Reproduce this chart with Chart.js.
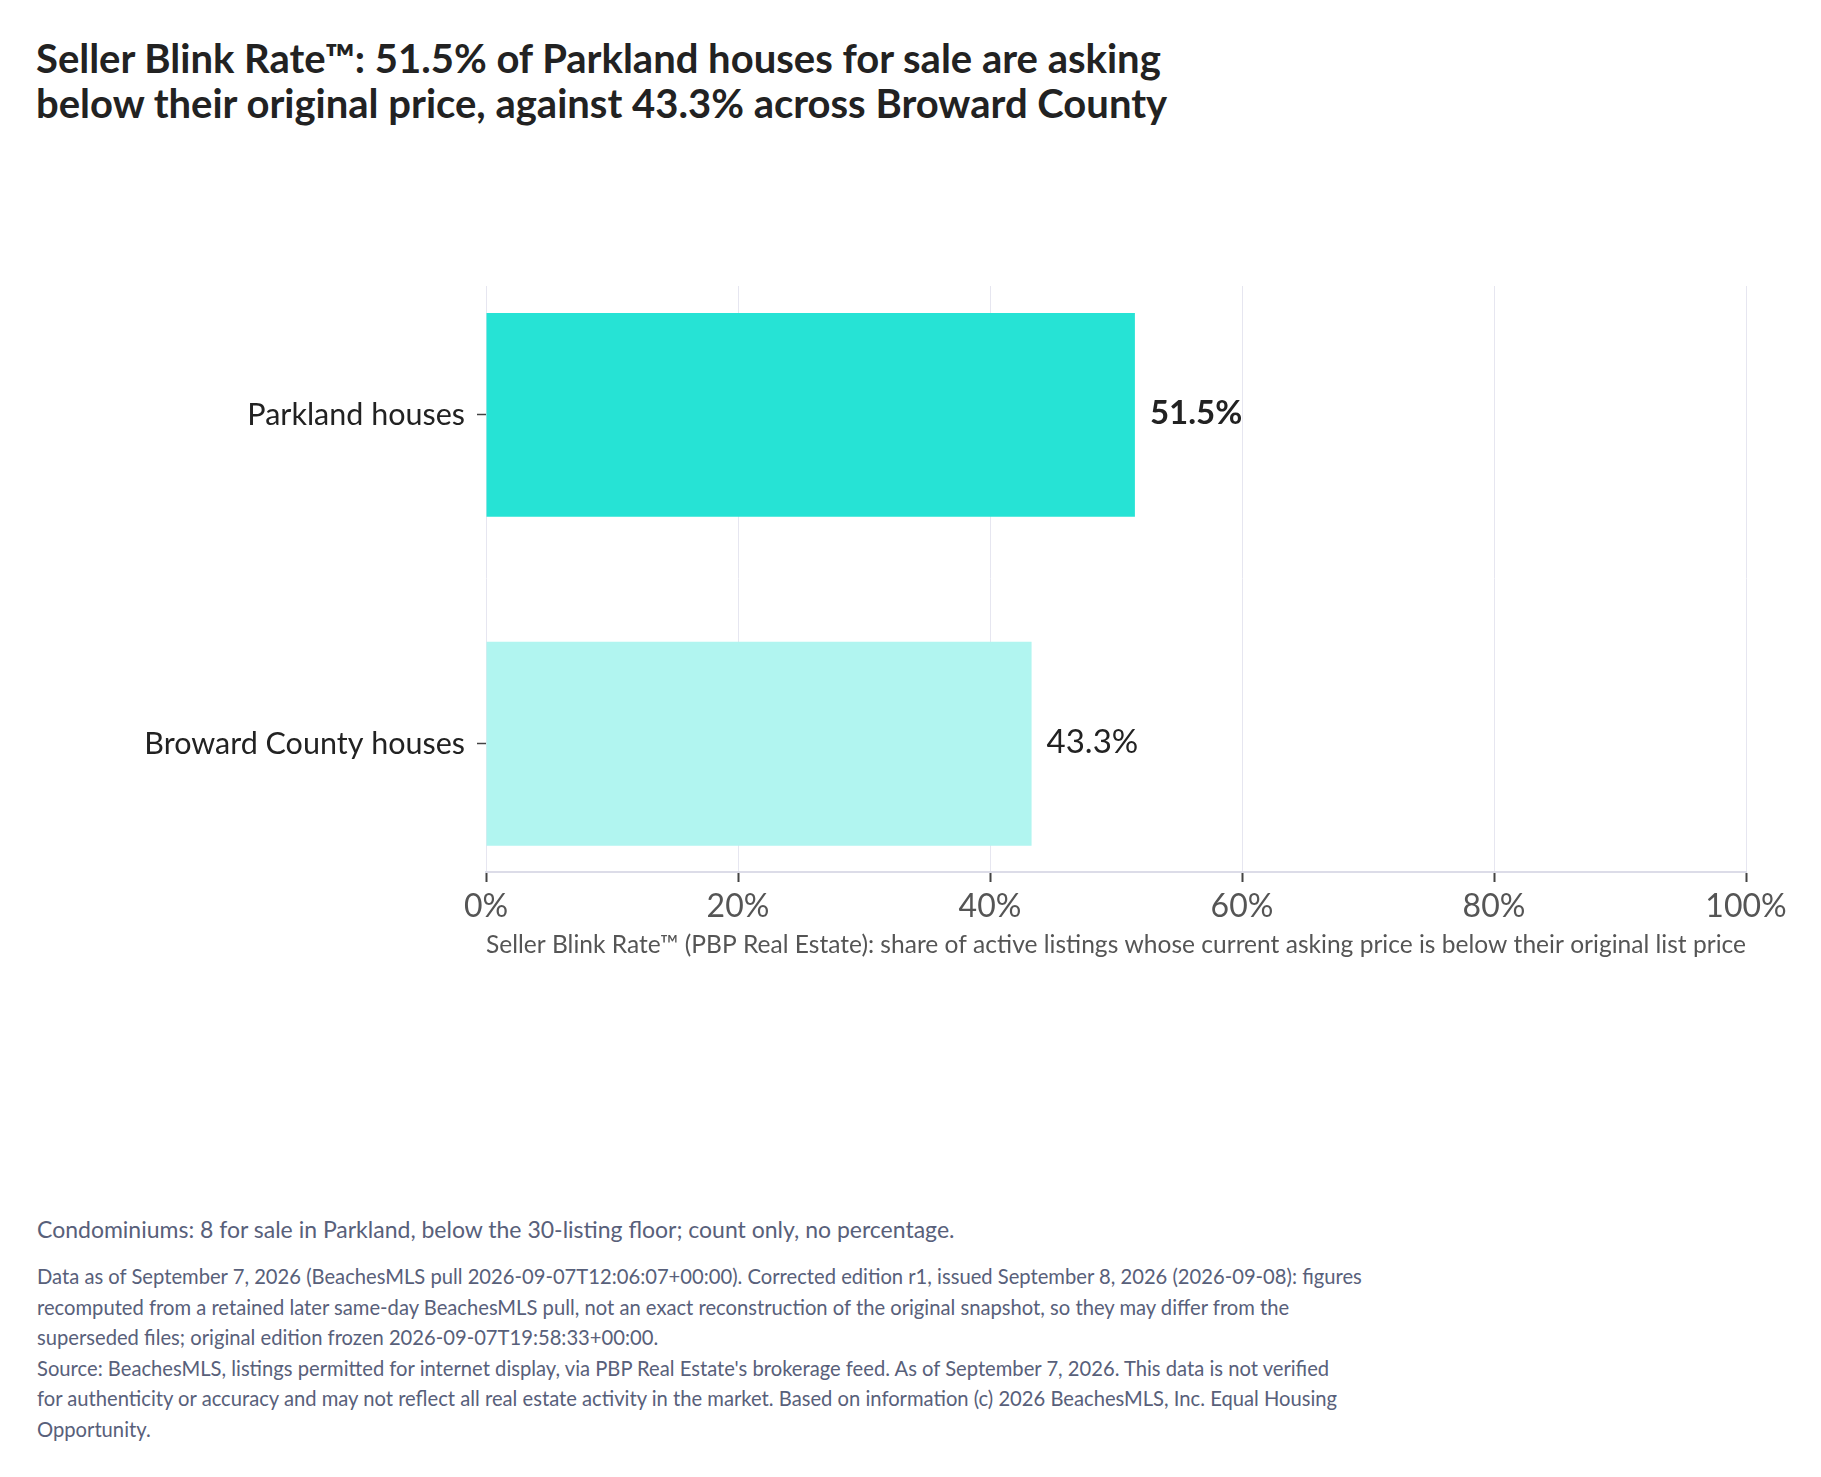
<!DOCTYPE html>
<html>
<head>
<meta charset="utf-8">
<script src="https://cdn.jsdelivr.net/npm/chart.js@4.4.1/dist/chart.umd.min.js"></script>
<style>
  html, body { margin: 0; padding: 0; background: #fff; }
  body { width: 1821px; height: 1477px; position: relative; overflow: hidden; font-family: Lato, "Noto Sans", sans-serif; }
  #title { position: absolute; left: 36px; top: 36px; font-size: 40px; line-height: 44.5px; font-weight: 700; color: #222; white-space: nowrap; }
  #wrap { position: absolute; left: 0; top: 200px; width: 1821px; height: 800px; }
  #note { position: absolute; left: 37px; top: 1217px; font-size: 23px; line-height: 24px; color: #58607a; white-space: nowrap; }
  #source { position: absolute; left: 37px; top: 1261px; font-size: 20.2px; line-height: 30.5px; color: #58607a; white-space: nowrap; }
</style>
</head>
<body>
<div id="title">Seller Blink Rate™: 51.5% of Parkland houses for sale are asking<br>below their original price, against 43.3% across Broward County</div>
<div id="wrap"><canvas id="chart"></canvas></div>
<div id="note">Condominiums: 8 for sale in Parkland, below the 30-listing floor; count only, no percentage.</div>
<div id="source">Data as of September 7, 2026 (BeachesMLS pull 2026-09-07T12:06:07+00:00). Corrected edition r1, issued September 8, 2026 (2026-09-08): figures<br>recomputed from a retained later same-day BeachesMLS pull, not an exact reconstruction of the original snapshot, so they may differ from the<br>superseded files; original edition frozen 2026-09-07T19:58:33+00:00.<br>Source: BeachesMLS, listings permitted for internet display, via PBP Real Estate's brokerage feed. As of September 7, 2026. This data is not verified<br>for authenticity or accuracy and may not reflect all real estate activity in the market. Based on information (c) 2026 BeachesMLS, Inc. Equal Housing<br>Opportunity.</div>
<script>
// data
const categories = ['Parkland houses', 'Broward County houses'];
const blinkRate = [51.5, 43.3];
const barColors = ['#26e3d5', '#b1f5f0'];
const xTicks = [0, 20, 40, 60, 80, 100];
const xTitle = 'Seller Blink Rate™ (PBP Real Estate): share of active listings whose current asking price is below their original list price';

// value labels at the end of each bar
const valueLabels = {
  id: 'valueLabels',
  afterDatasetsDraw(chart) {
    const ctx = chart.ctx;
    const meta = chart.getDatasetMeta(0);
    ctx.save();
    ctx.fillStyle = '#222';
    ctx.textAlign = 'left';
    ctx.textBaseline = 'alphabetic';
    meta.data.forEach((bar, i) => {
      ctx.font = (i === 0 ? '700 ' : '400 ') + '33px Lato';
      ctx.fillText(blinkRate[i].toFixed(1) + '%', bar.x + 15, bar.y + 9);
    });
    ctx.restore();
  }
};

new Chart(document.getElementById('chart'), {
  type: 'bar',
  data: {
    datasets: [{
      data: categories.map((c, i) => ({ x: blinkRate[i], y: i })),
      backgroundColor: barColors,
      borderWidth: 0,
      barPercentage: 0.62,
      categoryPercentage: 1
    }]
  },
  options: {
    indexAxis: 'y',
    responsive: true,
    maintainAspectRatio: false,
    animation: false,
    layout: { padding: { top: 86, right: 75, left: 0, bottom: 0 } },
    plugins: {
      legend: { display: false },
      tooltip: { enabled: false }
    },
    scales: {
      x: {
        type: 'linear',
        min: 0,
        max: 100,
        afterBuildTicks: s => { s.ticks = xTicks.map(v => ({ value: v })); },
        afterFit: s => { s.height = 128; },
        ticks: {
          padding: 5,
          color: '#555',
          font: { family: 'Lato', size: 32, lineHeight: 1.2 },
          callback: v => v + '%'
        },
        grid: { color: '#e6e6f0', lineWidth: 1, tickColor: '#444', tickLength: 10, tickWidth: 2 },
        border: { display: true, color: '#dcdce8', width: 2 },
        title: {
          display: true,
          text: xTitle,
          color: '#555',
          font: { family: 'Lato', size: 25.2, lineHeight: 1.2 },
          padding: { top: 0, bottom: 40 }
        }
      },
      y: {
        type: 'linear',
        reverse: true,
        min: -0.392,
        max: 1.39,
        offset: false,
        afterBuildTicks: s => { s.ticks = categories.map((c, i) => ({ value: i })); },
        afterFit: s => { s.width = 486; },
        ticks: {
          padding: 12,
          color: '#222',
          autoSkip: false,
          font: { family: 'Lato', size: 30.5 },
          callback: v => categories[v]
        },
        grid: { drawOnChartArea: false, offset: false, tickColor: '#444', tickLength: 9, tickWidth: 1.5 },
        border: { display: false }
      }
    }
  },
  plugins: [valueLabels]
});
</script>
</body>
</html>
